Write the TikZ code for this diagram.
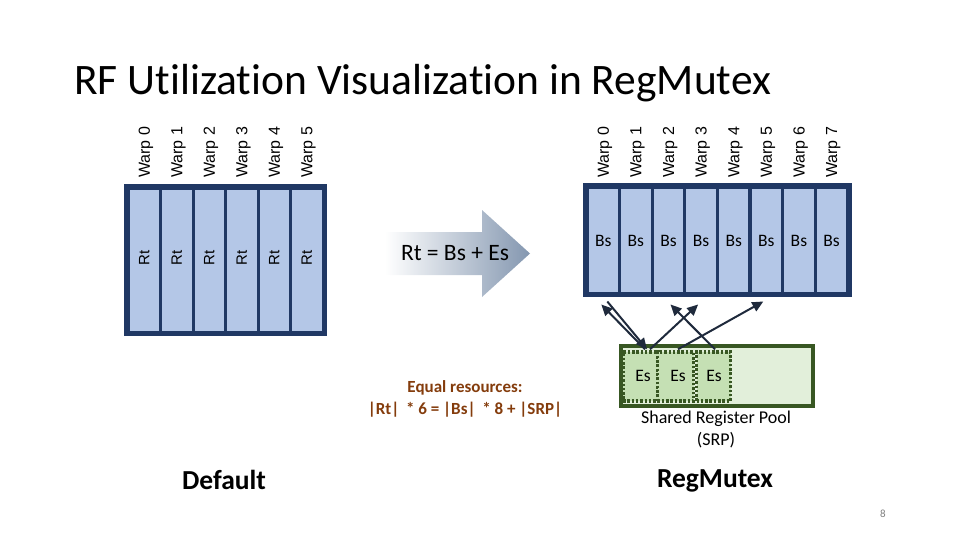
\documentclass[tikz,border=0pt]{standalone}
\usepackage{fontspec}
\setmainfont{Carlito}[Ligatures=NoCommon]
\newfontfamily\arialf{Liberation Sans}
\usetikzlibrary{arrows.meta}
\definecolor{navy}{HTML}{203864}
\definecolor{colfill}{HTML}{B4C7E7}
\definecolor{dkgreen}{HTML}{385723}
\definecolor{ltgreen}{HTML}{E2EFDA}
\definecolor{esgreen}{HTML}{C5E0B4}
\definecolor{brownt}{HTML}{843C0C}
\definecolor{arrowgray}{HTML}{8497B0}
\definecolor{arrline}{HTML}{1F2A3C}
\tikzset{
  col/.style={draw=navy, line width=3pt, fill=colfill, minimum width=32.5pt, minimum height=144pt, inner sep=0pt},
  warplbl/.style={font=\arialf\fontsize{16}{16}\selectfont, rotate=90, anchor=west, inner sep=0pt},
  rtlbl/.style={font=\arialf\fontsize{15}{15}\selectfont, rotate=90, inner sep=0pt},
  bslbl/.style={font=\fontsize{17.5}{17.5}\selectfont, inner sep=0pt},
  esbox/.style={draw=dkgreen, fill=esgreen, line width=3.5pt, dash pattern=on 2.5pt off 1.8pt, minimum height=49pt, inner sep=0pt},
  arr/.style={draw=arrline, line width=2pt, -{Triangle[length=11pt,width=10pt]}},
}
\begin{document}
\begin{tikzpicture}[x=1pt,y=-1pt]
\useasboundingbox (0,0) rectangle (960,540);
% title
\node[anchor=base west, inner sep=0pt, font=\fontsize{43.5}{43.5}\selectfont] (title) at (74,95) {RF Utilization Visualization in RegMutex};
% left block
\foreach \i in {0,...,5}{
  \node[col] (rt\i) at ({144.25+32.5*\i},260) {};
  \node[rtlbl] (rtl\i) at ({144.25+32.5*\i},258) {Rt};
  \node[warplbl] (lw\i) at ({146+32.5*\i},178) {Warp \i};
}
\draw[navy, line width=4.5pt] (rt0.north west) rectangle (rt5.south east);
% right block
\foreach \i in {0,...,7}{
  \node[col, minimum height=106pt] (bs\i) at ({603.3+32.6*\i},240) {};
  \node[bslbl] (bsl\i) at ({603.3+32.6*\i},241) {Bs};
  \node[warplbl] (rw\i) at ({605+32.6*\i},178) {Warp \i};
}
\draw[navy, line width=4.5pt] (bs0.north west) rectangle (bs7.south east);
% big arrow
\shade[left color=white, right color=arrowgray, draw=none]
  (385,232) -- (482,232) -- (482,210) -- (530,253.5) -- (482,297) -- (482,275) -- (385,275) -- cycle;
\node[font=\fontsize{23.5}{23.5}\selectfont, inner sep=0pt] (eq) at (455,253) {Rt = Bs + Es};
% equal resources
\node[font=\bfseries\fontsize{17}{22}\selectfont, text=brownt, align=center, inner sep=0pt] (equal) at (465,399) {Equal resources:\\|Rt|\,\ * 6 = |Bs|\,\ * 8 + |SRP|};
% SRP
\node[draw=dkgreen, fill=ltgreen, line width=4pt, minimum width=192pt, minimum height=60pt, inner sep=0pt] (srp) at (716.5,376) {};
\node[esbox, minimum width=35pt] (es1) at (640.5,376.5) {};
\node[esbox, minimum width=36pt] (es2) at (675.5,376.5) {};
\node[esbox, minimum width=34pt] (es3) at (713.5,376.5) {};
\node[bslbl] (esl1) at (643,376) {Es};
\node[bslbl] (esl2) at (678,376) {Es};
\node[bslbl] (esl3) at (714,376) {Es};
\node[font=\fontsize{18}{22}\selectfont, align=center, inner sep=0pt] (srplbl) at (716,429) {Shared Register Pool\\(SRP)};
% connectors
\draw[arr] ([xshift=4.5pt,yshift=1pt]es1.north) -- ([xshift=-2pt,yshift=-10pt]bs0.south);
\draw[arr] ([xshift=4pt,yshift=-7pt]bs0.south) -- ([xshift=6.5pt,yshift=1pt]es1.north);
\draw[arr] ([xshift=9.5pt,yshift=1pt]es1.north) -- ([xshift=-3pt,yshift=-10pt]bs3.south);
\draw[arr] ([xshift=1.5pt,yshift=1pt]es3.north) -- ([xshift=2pt,yshift=-10pt]bs2.south);
\draw[arr] ([xshift=2.5pt,yshift=1pt]es2.north) -- ([xshift=-3pt,yshift=-7pt]bs5.south);
% bottom labels
\node[font=\bfseries\fontsize{27.5}{27.5}\selectfont, inner sep=0pt] (deflt) at (224,480) {Default};
\node[font=\bfseries\fontsize{27.5}{27.5}\selectfont, inner sep=0pt] (regm) at (715,481) {RegMutex};
\node[font=\fontsize{11}{11}\selectfont, text=gray, inner sep=0pt] (pg) at (883,514) {8};
\end{tikzpicture}
\end{document}
